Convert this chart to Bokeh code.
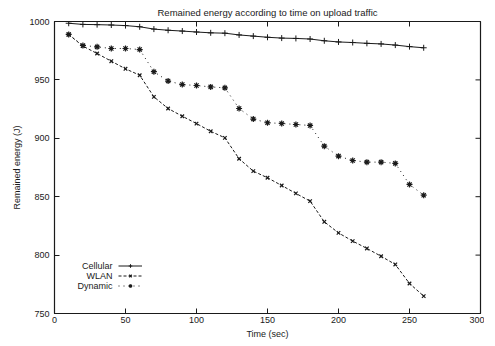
import math
from bokeh.plotting import figure
from bokeh.models import Range1d, Legend, LegendItem, Label, FixedTicker
from bokeh.embed import file_html
from bokeh.resources import INLINE

# ---- data ----
time_sec = [10, 20, 30, 40, 50, 60, 70, 80, 90, 100, 110, 120, 130,
            140, 150, 160, 170, 180, 190, 200, 210, 220, 230, 240, 250, 260]
cellular = [998.5, 997.5, 997.3, 997.0, 996.5, 995.5, 993.5, 992.5, 991.8, 991.0,
            990.3, 990.0, 988.5, 987.5, 986.5, 985.8, 985.5, 985.0, 983.5, 982.5,
            982.0, 981.3, 980.8, 979.8, 978.5, 977.5]
wlan = [988.9, 978.9, 972.6, 966.0, 959.5, 954.0, 935.5, 925.5, 918.9, 912.6,
        906.0, 900.4, 882.5, 871.9, 866.2, 859.6, 852.8, 846.2, 828.5, 819.0,
        812.0, 805.7, 799.0, 792.0, 775.7, 764.9]
dynamic = [988.9, 979.5, 978.3, 976.9, 976.9, 976.0, 957.0, 949.0, 946.0, 945.2,
           944.0, 943.2, 925.5, 916.5, 913.3, 912.7, 911.8, 911.0, 893.3, 884.7,
           881.0, 879.6, 879.6, 878.5, 860.5, 851.3]
series_names = ["Cellular", "WLAN", "Dynamic"]
x_ticks = [0, 50, 100, 150, 200, 250, 300]
y_ticks = [750, 800, 850, 900, 950, 1000]
x_min, x_max = 0, 300
y_min, y_max = 750, 1000
title_text = "Remained energy according to time on upload traffic"
x_label = "Time (sec)"
y_label = "Remained energy (J)"

FONT = "Liberation Sans"
INK = "#1a1a1a"

p = figure(output_backend="svg", toolbar_location=None,
           x_range=Range1d(x_min, x_max), y_range=Range1d(y_min, y_max),
           frame_width=426, frame_height=292,
           min_border_left=54, min_border_right=4, min_border_top=21, min_border_bottom=16,
           title=title_text)

p.title.text_font = FONT
p.title.text_font_size = "9.5px"
p.title.text_font_style = "normal"
p.title.align = "center"
p.title.standoff = 8
p.title.offset = 0
p.title.text_color = INK

p.xgrid.visible = False
p.ygrid.visible = False
p.outline_line_color = INK
p.outline_line_width = 1.2
p.background_fill_color = "white"
p.border_fill_color = "white"

for ax in p.xaxis + p.yaxis:
    ax.major_tick_in = 5
    ax.major_tick_out = 0
    ax.minor_tick_in = 0
    ax.minor_tick_out = 0
    ax.axis_line_color = INK
    ax.major_tick_line_color = INK
    ax.major_label_text_font = FONT
    ax.major_label_text_font_size = "9px"
    ax.major_label_text_color = INK
    ax.axis_label_text_font = FONT
    ax.axis_label_text_font_size = "9px"
    ax.axis_label_text_font_style = "normal"
    ax.axis_label_text_color = INK
p.xaxis.ticker = FixedTicker(ticks=x_ticks)
p.yaxis.ticker = FixedTicker(ticks=y_ticks)
p.xaxis.axis_label = x_label
p.yaxis.axis_label = y_label
p.xaxis.major_label_standoff = 3
p.xaxis.axis_label_standoff = 3
p.yaxis.major_label_standoff = 5
p.yaxis.axis_label_standoff = 4

# mirrored ticks on top and right edges (gnuplot style), drawn at tick values
p.scatter(x_ticks, [y_max] * len(x_ticks), marker="dash", angle=math.pi / 2, size=10,
          line_color=INK, line_width=1)
p.scatter([x_max] * len(y_ticks), y_ticks, marker="dash", size=10,
          line_color=INK, line_width=1)

# ---- series ----
l1 = p.line(time_sec, cellular, line_color=INK, line_width=1)
m1 = p.scatter(time_sec, cellular, marker="cross", size=6, line_color=INK, line_width=1)
l2 = p.line(time_sec, wlan, line_color=INK, line_width=1, line_dash="3 2")
m2 = p.scatter(time_sec, wlan, marker="x", size=5, line_color=INK, line_width=1.2)
l3 = p.line(time_sec, dynamic, line_color=INK, line_width=1, line_dash="1 4")
m3 = p.scatter(time_sec, dynamic, marker="asterisk", size=6, line_color=INK, line_width=1.2)

# legend: samples via Legend, texts right-aligned to the left of them
legend = Legend(items=[LegendItem(label="", renderers=[l1, m1]),
                       LegendItem(label="", renderers=[l2, m2]),
                       LegendItem(label="", renderers=[l3, m3])],
                location=(64, 23), padding=0, margin=0, spacing=1,
                glyph_width=24, glyph_height=9, label_height=9, label_width=0,
                label_standoff=0,
                background_fill_alpha=0, border_line_alpha=0)
p.add_layout(legend)

for i, name in enumerate(series_names):
    p.add_layout(Label(x=58, y=48 - i * 10, x_units="screen", y_units="screen",
                       text=name, text_align="right", text_baseline="middle",
                       text_font=FONT, text_font_size="9px", text_color=INK))

html = file_html(p, INLINE)
open("out.html", "w").write(html)
